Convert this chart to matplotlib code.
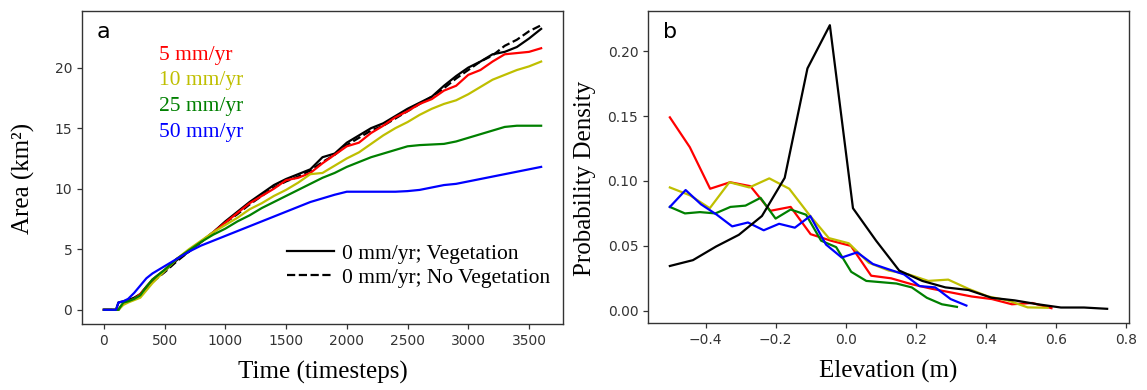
import matplotlib
matplotlib.use("Agg")
import matplotlib.pyplot as plt
from matplotlib.ticker import FormatStrFormatter

# ---------------- Panel a data ----------------
time = [0, 100, 120, 160, 200, 250, 300, 350, 400, 500, 600, 700, 800, 900, 1000,
        1100, 1200, 1300, 1400, 1500, 1600, 1700, 1800, 1900, 2000, 2100, 2200, 2300,
        2400, 2500, 2600, 2700, 2800, 2900, 3000, 3100, 3200, 3300, 3400, 3500, 3600]

area_veg = [0, 0, 0.6, 0.7, 0.8, 1.0, 1.3, 1.9, 2.4, 3.2, 4.1, 4.8, 5.6, 6.4, 7.3,
            8.1, 8.9, 9.6, 10.3, 10.8, 11.2, 11.6, 12.6, 12.9, 13.8, 14.4, 15.0, 15.4,
            16.0, 16.6, 17.1, 17.6, 18.5, 19.3, 20.0, 20.5, 21.1, 21.3, 21.7, 22.4, 23.2]
area_noveg = [0, 0, 0, 0.6, 0.7, 0.9, 1.2, 1.8, 2.3, 3.1, 4.0, 4.8, 5.6, 6.4, 7.2,
              7.9, 8.7, 9.4, 10.1, 10.6, 11.0, 11.5, 12.2, 12.8, 13.6, 14.2, 14.8, 15.2,
              15.8, 16.4, 17.0, 17.6, 18.3, 19.1, 19.8, 20.5, 21.0, 21.8, 22.3, 23.0, 23.5]
area_5 = [0, 0, 0, 0.5, 0.7, 0.9, 1.3, 1.9, 2.5, 3.3, 4.2, 4.9, 5.6, 6.4, 7.2,
          8.0, 8.8, 9.4, 10.0, 10.7, 10.9, 11.3, 12.1, 12.8, 13.5, 13.8, 14.6, 15.2,
          15.9, 16.4, 17.0, 17.4, 18.1, 18.5, 19.4, 19.8, 20.5, 21.1, 21.2, 21.3, 21.6]
area_10 = [0, 0, 0, 0.4, 0.6, 0.8, 1.0, 1.6, 2.2, 3.2, 4.2, 5.0, 5.7, 6.4, 7.0,
           7.6, 8.3, 8.8, 9.4, 9.9, 10.5, 11.2, 11.3, 11.9, 12.5, 13.0, 13.7, 14.4,
           15.0, 15.5, 16.1, 16.6, 17.0, 17.3, 17.8, 18.4, 19.0, 19.4, 19.8, 20.1, 20.5]
area_25 = [0, 0, 0, 0.6, 0.7, 0.9, 1.2, 1.9, 2.5, 3.3, 4.2, 4.9, 5.6, 6.2, 6.7,
           7.3, 7.8, 8.4, 8.9, 9.4, 9.9, 10.4, 10.9, 11.3, 11.8, 12.2, 12.6, 12.9,
           13.2, 13.5, 13.6, 13.65, 13.7, 13.9, 14.2, 14.5, 14.8, 15.1, 15.2, 15.2, 15.2]
area_50 = [0, 0, 0.6, 0.7, 0.9, 1.4, 2.0, 2.6, 3.0, 3.6, 4.2, 4.8, 5.3, 5.7, 6.1,
           6.5, 6.9, 7.3, 7.7, 8.1, 8.5, 8.9, 9.2, 9.5, 9.75, 9.75, 9.75, 9.75,
           9.75, 9.8, 9.9, 10.1, 10.3, 10.4, 10.6, 10.8, 11.0, 11.2, 11.4, 11.6, 11.8]

rate_labels = ["5 mm/yr", "10 mm/yr", "25 mm/yr", "50 mm/yr"]
legend_labels = ["0 mm/yr; Vegetation", "0 mm/yr; No Vegetation"]

# ---------------- Panel b data ----------------
elev_veg = [-0.502, -0.436, -0.370, -0.305, -0.239, -0.174, -0.109, -0.045, 0.021, 0.087,
            0.153, 0.219, 0.285, 0.351, 0.417, 0.483, 0.549, 0.615, 0.681, 0.747]
dens_veg = [0.0345, 0.039, 0.0495, 0.0585, 0.073, 0.1024, 0.1867, 0.220, 0.079, 0.054,
            0.031, 0.023, 0.018, 0.016, 0.010, 0.008, 0.005, 0.0025, 0.0025, 0.0015]

elev_5 = [-0.502, -0.445, -0.387, -0.330, -0.272, -0.215, -0.157, -0.100, -0.042, 0.015,
          0.073, 0.130, 0.188, 0.245, 0.303, 0.360, 0.418, 0.475, 0.533, 0.588]
dens_5 = [0.149, 0.126, 0.094, 0.099, 0.096, 0.077, 0.080, 0.059, 0.054, 0.050,
          0.027, 0.025, 0.0205, 0.017, 0.014, 0.011, 0.009, 0.005, 0.006, 0.002]

elev_10 = [-0.502, -0.445, -0.388, -0.332, -0.275, -0.218, -0.161, -0.104, -0.048, 0.009,
           0.066, 0.123, 0.180, 0.236, 0.293, 0.350, 0.407, 0.463, 0.520, 0.577]
dens_10 = [0.095, 0.089, 0.079, 0.099, 0.095, 0.102, 0.094, 0.074, 0.056, 0.052,
           0.037, 0.031, 0.028, 0.023, 0.024, 0.017, 0.011, 0.008, 0.0026, 0.0023]

elev_25 = [-0.502, -0.459, -0.416, -0.372, -0.329, -0.286, -0.243, -0.200, -0.157, -0.113,
           -0.070, -0.027, 0.016, 0.059, 0.102, 0.145, 0.189, 0.232, 0.275, 0.318]
dens_25 = [0.080, 0.075, 0.076, 0.075, 0.080, 0.081, 0.087, 0.071, 0.078, 0.074,
           0.054, 0.049, 0.030, 0.023, 0.022, 0.021, 0.018, 0.010, 0.005, 0.003]

elev_50 = [-0.502, -0.457, -0.413, -0.368, -0.324, -0.279, -0.234, -0.190, -0.145, -0.101,
           -0.056, -0.011, 0.033, 0.078, 0.122, 0.167, 0.211, 0.256, 0.300, 0.345]
dens_50 = [0.080, 0.093, 0.082, 0.074, 0.065, 0.068, 0.062, 0.067, 0.064, 0.073,
           0.051, 0.041, 0.045, 0.036, 0.032, 0.028, 0.019, 0.018, 0.009, 0.004]

colors = ["#ff0000", "#bfbf00", "#008000", "#0000ff"]

SERIF = ["Liberation Serif", "DejaVu Serif"]
TICK_COLOR = "#333333"

fig = plt.figure(figsize=(11.47, 3.90), dpi=100)
W, H = 1147, 390


def add_ax(l, r, t, b):
    return fig.add_axes([l / W, (H - b) / H, (r - l) / W, (b - t) / H])


axa = add_ax(82, 563, 11, 324)
axb = add_ax(648, 1129, 11, 323)

for ax in (axa, axb):
    for sp in ax.spines.values():
        sp.set_color("#333333")
        sp.set_linewidth(1.0)
    ax.tick_params(axis="both", labelsize=10, colors=TICK_COLOR, length=3.5, width=0.9)

# ----- panel a -----
lw = 1.6
axa.plot(time, area_veg, color="k", lw=lw, ls="-", label=legend_labels[0])
axa.plot(time, area_noveg, color="k", lw=lw, ls="--", label=legend_labels[1])
for ser, c in zip([area_5, area_10, area_25, area_50], colors):
    axa.plot(time, ser, color=c, lw=lw)
axa.set_xticks([0, 500, 1000, 1500, 2000, 2500, 3000, 3500])
axa.set_yticks([0, 5, 10, 15, 20])
axa.set_xlabel("Time (timesteps)", fontsize=18, family=SERIF, va="top")
axa.xaxis.set_label_coords(0.5, -0.118)
axa.set_ylabel("Area (km²)", fontsize=18, family=SERIF)
axa.yaxis.set_label_coords(-0.098, 0.465)

ys = [0.843, 0.764, 0.680, 0.597]
for lab, c, yy in zip(rate_labels, colors, ys):
    axa.text(0.160, yy, lab, color=c, fontsize=15.5, family=SERIF,
             transform=axa.transAxes, va="baseline", ha="left")

leg = axa.legend(loc="upper left", bbox_to_anchor=(0.426, 0.257), frameon=False,
                 prop={"family": SERIF, "size": 15.5}, borderpad=0, borderaxespad=0,
                 handlelength=2.2, handletextpad=0.35, labelspacing=0.2)
axa.text(0.031, 0.914, "a", fontsize=16, transform=axa.transAxes, va="baseline")

# ----- panel b -----
axb.plot(elev_5, dens_5, color=colors[0], lw=lw)
axb.plot(elev_10, dens_10, color=colors[1], lw=lw)
axb.plot(elev_25, dens_25, color=colors[2], lw=lw)
axb.plot(elev_50, dens_50, color=colors[3], lw=lw)
axb.plot(elev_veg, dens_veg, color="k", lw=lw)
xt = [-0.4, -0.2, 0.0, 0.2, 0.4, 0.6, 0.8]
axb.set_xticks(xt)
axb.set_xticklabels([("%.1f" % v).replace("-", "\u2212") for v in xt])
axb.set_yticks([0.0, 0.05, 0.10, 0.15, 0.20])
axb.yaxis.set_major_formatter(FormatStrFormatter("%.2f"))
axb.set_xlabel("Elevation (m)", fontsize=18, family=SERIF, va="top")
axb.xaxis.set_label_coords(0.5, -0.118)
axb.set_ylabel("Probability Density", fontsize=18, family=SERIF)
axb.yaxis.set_label_coords(-0.108, 0.465)
axb.text(0.031, 0.914, "b", fontsize=16, transform=axb.transAxes, va="baseline")

fig.savefig("out.png", dpi=100)
